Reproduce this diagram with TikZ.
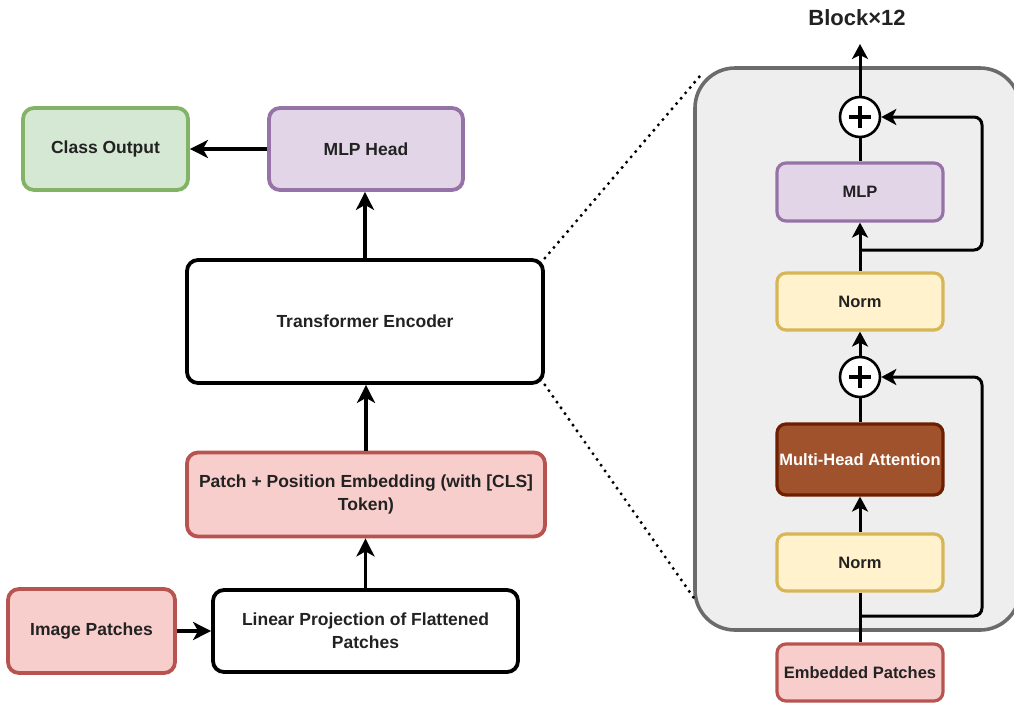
\documentclass[tikz,border=0pt]{standalone}
\usepackage{fontspec}
\setmainfont{Liberation Sans}
\usetikzlibrary{arrows.meta}
\definecolor{txt}{HTML}{222222}
\definecolor{gfill}{HTML}{D5E8D4}\definecolor{gdraw}{HTML}{82B366}
\definecolor{pfill}{HTML}{E1D5E7}\definecolor{pdraw}{HTML}{9673A6}
\definecolor{rfill}{HTML}{F8CECC}\definecolor{rdraw}{HTML}{B85450}
\definecolor{yfill}{HTML}{FFF2CC}\definecolor{ydraw}{HTML}{D6B656}
\definecolor{mfill}{HTML}{A0522D}\definecolor{mdraw}{HTML}{6D1F00}
\definecolor{bfill}{HTML}{EEEEEE}\definecolor{bdraw}{HTML}{6B6B6B}
\tikzset{
  lbox/.style={draw, rounded corners=11pt, line width=3.8pt, align=center,
    font=\fontsize{17.5}{23}\selectfont\bfseries, text=txt, inner sep=0pt},
  rbox/.style={draw, rounded corners=9pt, line width=3.2pt, align=center,
    font=\fontsize{16.5}{19}\selectfont\bfseries, text=txt, inner sep=0pt,
    minimum width=166pt, minimum height=57pt},
  larr/.style={line width=3.8pt, -{Stealth[length=18pt,width=18pt,inset=5pt]}},
  rarr/.style={line width=3pt, -{Stealth[length=15pt,width=16pt,inset=4pt]}},
  rline/.style={line width=3pt},
  plusnode/.style={circle, draw, fill=white, line width=2.6pt, minimum size=40pt, inner sep=0pt,
    path picture={\draw[line width=3.2pt] ([xshift=-11pt]path picture bounding box.center) -- ([xshift=11pt]path picture bounding box.center);
      \draw[line width=3.2pt] ([yshift=-11pt]path picture bounding box.center) -- ([yshift=11pt]path picture bounding box.center);}},
  dots/.style={line width=3.4pt, dash pattern=on 0pt off 7pt, line cap=round}
}
\begin{document}
\begin{tikzpicture}[x=1pt,y=-1pt]
\useasboundingbox (0,0) rectangle (1014,702);
% right block background
\node[draw=bdraw, fill=bfill, line width=3.6pt, rounded corners=40pt, minimum width=325pt, minimum height=562pt, inner sep=0pt] (block) at (857.5,349) {};
% left column
\node[lbox, draw=gdraw, fill=gfill, minimum width=165pt, minimum height=82pt] (cls) at (105.5,149) {Class Output};
\node[lbox, draw=pdraw, fill=pfill, minimum width=194pt, minimum height=82pt] (mlph) at (366,149) {MLP Head};
\node[lbox, draw=black, fill=white, minimum width=356pt, minimum height=123pt] (te) at (365,321.5) {Transformer Encoder};
\node[lbox, draw=rdraw, fill=rfill, minimum width=358pt, minimum height=84pt] (pe) at (366,494.5) {Patch + Position Embedding (with [CLS]\\Token)};
\node[lbox, draw=black, fill=white, minimum width=305pt, minimum height=82pt] (lp) at (365.5,631) {Linear Projection of Flattened\\Patches};
\node[lbox, draw=rdraw, fill=rfill, minimum width=167pt, minimum height=84pt] (ip) at (91.5,631) {Image Patches};
\draw[larr] (mlph) -- (cls);
\draw[larr] (te.north) -- (te.north |- mlph.south);
\draw[larr] (pe.north) -- (pe.north |- te.south);
\draw[larr] (lp.north) -- (lp.north |- pe.south);
\draw[larr] (ip) -- (lp);
% right column
\node[plusnode] (p1) at (860,117) {};
\node[rbox, draw=pdraw, fill=pfill, minimum height=58pt] (mlp) at (860,192) {MLP};
\node[rbox, draw=ydraw, fill=yfill] (n1) at (860,301.5) {Norm};
\node[plusnode] (p2) at (860,377) {};
\node[rbox, draw=mdraw, fill=mfill, text=white, minimum height=71pt] (mha) at (860,459.5) {Multi-Head Attention};
\node[rbox, draw=ydraw, fill=yfill] (n2) at (860,562.5) {Norm};
\node[rbox, draw=rdraw, fill=rfill] (emb) at (860,672.5) {Embedded Patches};
\node[font=\fontsize{22}{24}\selectfont\bfseries, text=txt] (title) at (857,18) {Block×12};
\coordinate (top) at (860,44);
\coordinate (j1) at (860,250);
\coordinate (j2) at (860,616);
\coordinate (r1) at (982,250);
\coordinate (r2) at (982,616);
\draw[rarr] (p1.north) -- (top);
\draw[rline] (mlp.north) -- (p1.south);
\draw[rarr] (n1.north) -- (mlp.south);
\draw[rarr] (p2.north) -- (n1.south);
\draw[rline] (mha.north) -- (p2.south);
\draw[rarr] (n2.north) -- (mha.south);
\draw[rline] (emb.north) -- (n2.south);
\draw[rarr, rounded corners=8pt] (j1) -- (r1) |- (p1.east);
\draw[rarr, rounded corners=8pt] (j2) -- (r2) |- (p2.east);
% zoom lines
\coordinate (zt) at (700,76);
\coordinate (zb) at (696,601);
\draw[dots] (te.north east) -- (zt);
\draw[dots] (te.south east) -- (zb);
\end{tikzpicture}
\end{document}
